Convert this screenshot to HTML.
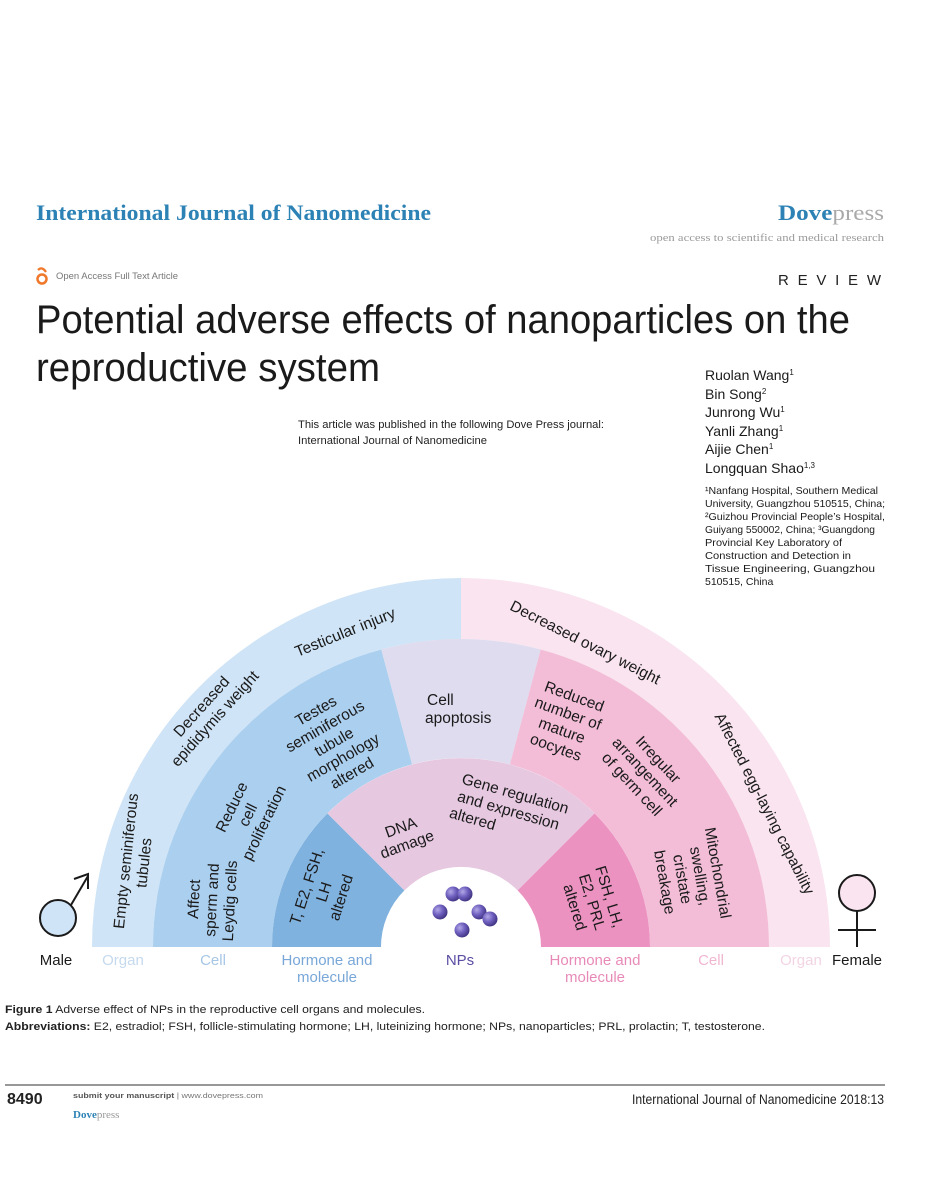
<!DOCTYPE html>
<html><head><meta charset="utf-8"><style>
html,body{margin:0;padding:0;background:#fff}
svg{display:block}
text{font-family:"Liberation Sans",sans-serif}
.d{font-size:15.5px;fill:#1a1a1a}
.s{font-family:"Liberation Serif",serif}
</style></head><body>
<svg width="927" height="1200" viewBox="0 0 927 1200" xmlns="http://www.w3.org/2000/svg">
<defs>
<radialGradient id="np" cx="0.35" cy="0.35" r="0.7"><stop offset="0" stop-color="#b3a8e6"/><stop offset="0.5" stop-color="#6f5fbf"/><stop offset="1" stop-color="#3f317f"/></radialGradient>
</defs>
<!-- header -->
<text x="36" y="220" class="s" font-size="22" font-weight="bold" fill="#2d82b5" textLength="395" lengthAdjust="spacingAndGlyphs">International Journal of Nanomedicine</text>
<text x="778" y="220" class="s" font-size="22" textLength="106" lengthAdjust="spacingAndGlyphs"><tspan fill="#2d82b5" font-weight="bold">Dove</tspan><tspan fill="#a9a9a9">press</tspan></text>
<text x="650" y="241" class="s" font-size="11" fill="#9a9a9a" textLength="234" lengthAdjust="spacingAndGlyphs">open access to scientific and medical research</text>
<circle cx="42" cy="279" r="4.5" fill="none" stroke="#f0782a" stroke-width="2.5"/>
<path d="M38,270 Q42,266 46,272" fill="none" stroke="#f0782a" stroke-width="2.3"/>
<text x="56" y="279" font-size="9" fill="#777" textLength="122" lengthAdjust="spacingAndGlyphs">Open Access Full Text Article</text>
<text x="778" y="285" font-size="15" fill="#222" textLength="106" letter-spacing="3">REVIEW</text>
<text x="36" y="333" font-size="40" fill="#1a1a1a" textLength="814" lengthAdjust="spacingAndGlyphs">Potential adverse effects of nanoparticles on the</text>
<text x="36" y="381" font-size="40" fill="#1a1a1a" textLength="344" lengthAdjust="spacingAndGlyphs">reproductive system</text>
<text x="298" y="428" font-size="11" fill="#222" textLength="306" lengthAdjust="spacingAndGlyphs">This article was published in the following Dove Press journal:</text>
<text x="298" y="444" font-size="11" fill="#222" textLength="189" lengthAdjust="spacingAndGlyphs">International Journal of Nanomedicine</text>
<g font-size="14" fill="#1a1a1a">
<text x="705" y="380">Ruolan Wang<tspan font-size="8" dy="-5">1</tspan></text>
<text x="705" y="399">Bin Song<tspan font-size="8" dy="-5">2</tspan></text>
<text x="705" y="417">Junrong Wu<tspan font-size="8" dy="-5">1</tspan></text>
<text x="705" y="436">Yanli Zhang<tspan font-size="8" dy="-5">1</tspan></text>
<text x="705" y="454">Aijie Chen<tspan font-size="8" dy="-5">1</tspan></text>
<text x="705" y="473">Longquan Shao<tspan font-size="8" dy="-5">1,3</tspan></text>
</g>
<g font-size="10.5" fill="#1a1a1a">
<text x="705" y="494" textLength="173" lengthAdjust="spacingAndGlyphs">¹Nanfang Hospital, Southern Medical</text>
<text x="705" y="507" textLength="180" lengthAdjust="spacingAndGlyphs">University, Guangzhou 510515, China;</text>
<text x="705" y="520" textLength="180" lengthAdjust="spacingAndGlyphs">²Guizhou Provincial People’s Hospital,</text>
<text x="705" y="533" textLength="170" lengthAdjust="spacingAndGlyphs">Guiyang 550002, China; ³Guangdong</text>
<text x="705" y="546" textLength="137" lengthAdjust="spacingAndGlyphs">Provincial Key Laboratory of</text>
<text x="705" y="559" textLength="146" lengthAdjust="spacingAndGlyphs">Construction and Detection in</text>
<text x="705" y="572" textLength="170" lengthAdjust="spacingAndGlyphs">Tissue Engineering, Guangzhou</text>
<text x="705" y="585">510515, China</text>
</g>
<!-- diagram rings -->
<path d="M92,947 A369,369 0 0 1 461,578 L461,639 A308,308 0 0 0 153,947 Z" fill="#cfe4f6"/>
<path d="M461,578 A369,369 0 0 1 830,947 L769,947 A308,308 0 0 0 461,639 Z" fill="#f9e4ef"/>
<path d="M153,947 A308,308 0 0 1 381.3,649.5 L412.1,764.4 A189,189 0 0 0 272,947 Z" fill="#abcfef"/>
<path d="M381.3,649.5 A308,308 0 0 1 540.7,649.5 L509.9,764.4 A189,189 0 0 0 412.1,764.4 Z" fill="#dedcee"/>
<path d="M540.7,649.5 A308,308 0 0 1 769,947 L650,947 A189,189 0 0 0 509.9,764.4 Z" fill="#f3bdd7"/>
<path d="M272,947 A189,189 0 0 1 327.4,813.4 L404.4,890.4 A80,80 0 0 0 381,947 Z" fill="#80b2df"/>
<path d="M327.4,813.4 A189,189 0 0 1 594.6,813.4 L517.6,890.4 A80,80 0 0 0 404.4,890.4 Z" fill="#e6c8e0"/>
<path d="M594.6,813.4 A189,189 0 0 1 650,947 L541,947 A80,80 0 0 0 517.6,890.4 Z" fill="#eb92c1"/>
<!-- NPs -->
<g fill="url(#np)">
<circle cx="453" cy="894" r="7.5"/><circle cx="465" cy="894" r="7.5"/>
<circle cx="440" cy="912" r="7.5"/><circle cx="479" cy="912" r="7.5"/><circle cx="490" cy="919" r="7.5"/>
<circle cx="462" cy="930" r="7.5"/>
</g>
<!-- diagram text male -->
<g class="d" text-anchor="middle">
<text transform="translate(347,637) rotate(-22)">Testicular injury</text>
<text transform="translate(212,716) rotate(-48)"><tspan x="0" y="-9">Decreased</tspan><tspan x="0" y="9">epididymis weight</tspan></text>
<text transform="translate(135,862) rotate(-84)"><tspan x="0" y="-4">Empty seminiferous</tspan><tspan x="0" y="14">tubules</tspan></text>
<text transform="translate(212,900) rotate(-87)"><tspan x="0" y="-13">Affect</tspan><tspan x="0" y="5">sperm and</tspan><tspan x="0" y="23">Leydig cells</tspan></text>
<text transform="translate(248,815) rotate(-64)"><tspan x="0" y="-13">Reduce</tspan><tspan x="0" y="5">cell</tspan><tspan x="0" y="23">proliferation</tspan></text>
<text transform="translate(334,742) rotate(-30)"><tspan x="0" y="-31">Testes</tspan><tspan x="0" y="-13">seminiferous</tspan><tspan x="0" y="5">tubule</tspan><tspan x="0" y="23">morphology</tspan><tspan x="0" y="41">altered</tspan></text>
<text transform="translate(324,892) rotate(-72)"><tspan x="0" y="-13">T, E2, FSH,</tspan><tspan x="0" y="5">LH</tspan><tspan x="0" y="23">altered</tspan></text>
<text transform="translate(404,836) rotate(-20)"><tspan x="0" y="-4">DNA</tspan><tspan x="0" y="14">damage</tspan></text>
</g>
<g class="d">
<text x="427" y="705">Cell</text>
<text x="425" y="723">apoptosis</text>
<text transform="translate(510,812) rotate(16)" text-anchor="middle"><tspan x="0" y="-14">Gene regulation</tspan><tspan x="-2" y="4">and expression</tspan><tspan x="-34" y="22">altered</tspan></text>
</g>
<!-- diagram text female -->
<g class="d" text-anchor="middle">
<text transform="translate(583,647) rotate(27)">Decreased ovary weight</text>
<text transform="translate(760,806) rotate(63)">Affected egg-laying capability</text>
<text transform="translate(565,722) rotate(20)"><tspan x="0" y="-22">Reduced</tspan><tspan x="0" y="-4">number of</tspan><tspan x="0" y="14">mature</tspan><tspan x="0" y="32">oocytes</tspan></text>
<text transform="translate(645,772) rotate(47)"><tspan x="0" y="-13">Irregular</tspan><tspan x="0" y="5">arrangement</tspan><tspan x="0" y="23">of germ cell</tspan></text>
<text transform="translate(700,876) rotate(80)"><tspan x="0" y="-13">Mitochondrial</tspan><tspan x="0" y="5">swelling,</tspan><tspan x="0" y="23">cristate</tspan><tspan x="0" y="41">breakage</tspan></text>
<text transform="translate(592,902) rotate(73)"><tspan x="0" y="-13">FSH, LH,</tspan><tspan x="0" y="5">E2, PRL</tspan><tspan x="0" y="23">altered</tspan></text>
</g>
<!-- symbols -->
<circle cx="58" cy="918" r="18" fill="#cfe4f6" stroke="#1a1a1a" stroke-width="2"/>
<line x1="71" y1="905" x2="88" y2="876" stroke="#1a1a1a" stroke-width="2"/>
<path d="M74,879 L88,874 L88,889" fill="none" stroke="#1a1a1a" stroke-width="2"/>
<circle cx="857" cy="893" r="18" fill="#f9e4ef" stroke="#1a1a1a" stroke-width="2"/>
<line x1="857" y1="911" x2="857" y2="947" stroke="#1a1a1a" stroke-width="2"/>
<line x1="838" y1="930" x2="876" y2="930" stroke="#1a1a1a" stroke-width="2"/>
<!-- bottom labels -->
<g font-size="15" text-anchor="middle">
<text x="56" y="965" fill="#1a1a1a">Male</text>
<text x="123" y="965" fill="#c5d9ee">Organ</text>
<text x="213" y="965" fill="#a6c6e6">Cell</text>
<text x="327" y="965" fill="#78a7d8">Hormone and</text>
<text x="327" y="982" fill="#78a7d8">molecule</text>
<text x="460" y="965" fill="#5a4da3">NPs</text>
<text x="595" y="965" fill="#e88ab8">Hormone and</text>
<text x="595" y="982" fill="#e88ab8">molecule</text>
<text x="711" y="965" fill="#f0b6d0">Cell</text>
<text x="801" y="965" fill="#f2d4e3">Organ</text>
<text x="857" y="965" fill="#1a1a1a">Female</text>
</g>
<!-- caption -->
<text x="5" y="1013" font-size="11" fill="#222" textLength="420" lengthAdjust="spacingAndGlyphs"><tspan font-weight="bold">Figure 1</tspan> Adverse effect of NPs in the reproductive cell organs and molecules.</text>
<text x="5" y="1030" font-size="11" fill="#222" textLength="760" lengthAdjust="spacingAndGlyphs"><tspan font-weight="bold">Abbreviations:</tspan> E2, estradiol; FSH, follicle-stimulating hormone; LH, luteinizing hormone; NPs, nanoparticles; PRL, prolactin; T, testosterone.</text>
<line x1="5" y1="1085" x2="885" y2="1085" stroke="#777" stroke-width="1.5"/>
<text x="7" y="1104" font-size="16" font-weight="bold" fill="#222">8490</text>
<text x="73" y="1098" font-size="7.5" fill="#777" textLength="190" lengthAdjust="spacingAndGlyphs"><tspan font-weight="bold" fill="#555">submit your manuscript</tspan> | www.dovepress.com</text>
<text x="73" y="1118" class="s" font-size="11"><tspan fill="#2d82b5" font-weight="bold">Dove</tspan><tspan fill="#999">press</tspan></text>
<text x="632" y="1104" font-size="14" fill="#222" textLength="252" lengthAdjust="spacingAndGlyphs">International Journal of Nanomedicine 2018:13</text>
</svg>
</body></html>
